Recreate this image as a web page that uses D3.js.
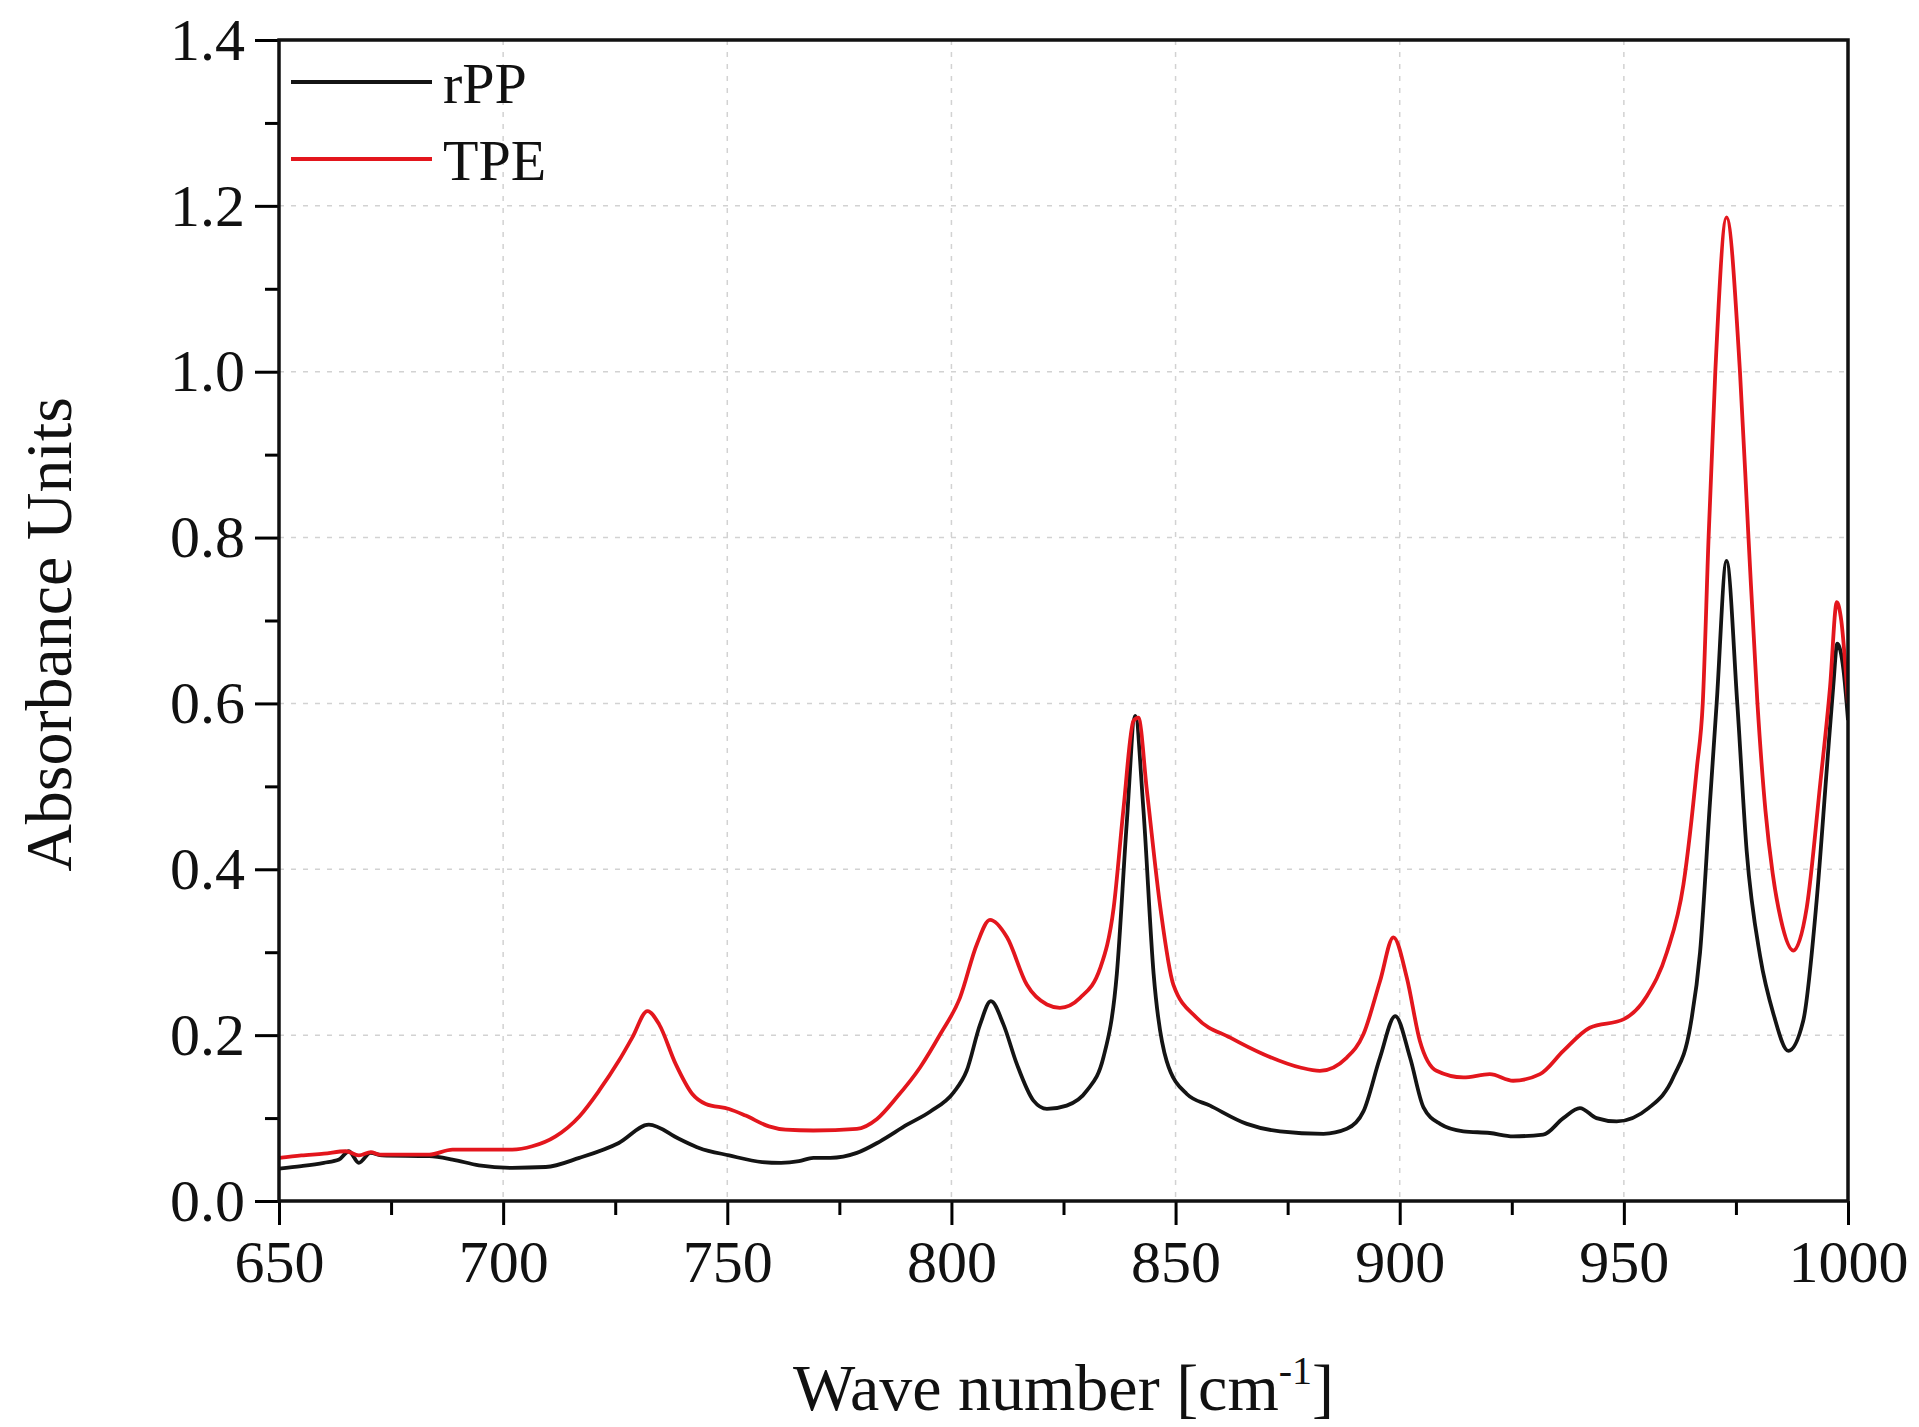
<!DOCTYPE html>
<html>
<head>
<meta charset="utf-8">
<script src="https://cdn.jsdelivr.net/npm/d3@7"></script>
<style>
  body { margin: 0; background: #fff; }
  svg { display: block; }
</style>
</head>
<body>
<script>
// wave numbers [cm-1] and absorbance
const rppWave = [650, 655, 660, 663.4, 665.6, 667.8, 670.4, 673, 683.5, 688.7, 694.6, 702, 709.5, 717, 725.8, 732.5, 739.2, 743.7, 750.4, 757.8, 762, 766, 769.2, 773, 778.9, 784.1, 790.1, 795.3, 800.5, 803.4, 806.4, 808.8, 811.6, 814.6, 818.3, 821.3, 825.7, 830.2, 833.9, 836.9, 839.1, 841, 842.8, 845.1, 848, 852.5, 857.7, 865.9, 873.3, 883, 888.2, 891.9, 895.6, 899, 902.3, 905.3, 909, 914.2, 920.1, 925.3, 932, 936.5, 940.2, 943.9, 948.4, 955.5, 961.1, 964.8, 967, 969.2, 970.7, 972.9, 975.3, 977.4, 980.4, 983.4, 986.7, 990, 993, 995.3, 996.7, 997.6, 999, 1000];
const rppAbs = [0.039, 0.042, 0.046, 0.050, 0.060, 0.046, 0.058, 0.055, 0.054, 0.050, 0.043, 0.040, 0.041, 0.052, 0.070, 0.092, 0.075, 0.064, 0.055, 0.047, 0.046, 0.048, 0.052, 0.052, 0.058, 0.072, 0.092, 0.108, 0.131, 0.157, 0.213, 0.241, 0.213, 0.165, 0.121, 0.111, 0.115, 0.133, 0.173, 0.274, 0.455, 0.585, 0.474, 0.274, 0.169, 0.129, 0.115, 0.093, 0.084, 0.081, 0.087, 0.108, 0.173, 0.223, 0.173, 0.113, 0.093, 0.084, 0.082, 0.078, 0.080, 0.100, 0.112, 0.100, 0.096, 0.112, 0.150, 0.210, 0.300, 0.480, 0.600, 0.772, 0.600, 0.422, 0.295, 0.225, 0.181, 0.217, 0.362, 0.523, 0.620, 0.672, 0.640, 0.580];

const tpeWave = [650, 655, 660, 664.9, 667.8, 670.5, 672.3, 683.5, 688.7, 702, 706.5, 711.7, 717, 721.4, 725.8, 728.8, 732.2, 734.8, 738.5, 742.2, 745.2, 750.4, 754.1, 759.3, 763, 769.2, 778.9, 783.4, 787.8, 793, 797.5, 801.9, 805.7, 808.6, 812.4, 816.8, 821.3, 824.2, 828.7, 833.2, 836.2, 838.4, 840.6, 841.7, 843.6, 846.6, 849.5, 854.7, 862.2, 869.6, 877.8, 882.2, 888.2, 891.9, 895.6, 898.6, 901.6, 904.5, 908.2, 914.2, 920.1, 925.3, 931.3, 936.5, 942.4, 949.9, 955.1, 959.6, 963.3, 966.3, 967.6, 968.9, 970.4, 972.9, 975.9, 977.8, 979.8, 981.6, 983.2, 985, 987.8, 990.8, 993.8, 996, 997.5, 998.5, 1000];
const tpeAbs = [0.052, 0.055, 0.057, 0.060, 0.055, 0.059, 0.056, 0.056, 0.062, 0.062, 0.066, 0.078, 0.102, 0.133, 0.169, 0.197, 0.229, 0.213, 0.165, 0.129, 0.117, 0.111, 0.103, 0.090, 0.086, 0.085, 0.087, 0.099, 0.125, 0.161, 0.201, 0.245, 0.310, 0.339, 0.318, 0.261, 0.237, 0.233, 0.245, 0.281, 0.354, 0.474, 0.579, 0.583, 0.495, 0.354, 0.261, 0.221, 0.197, 0.177, 0.161, 0.157, 0.173, 0.201, 0.265, 0.318, 0.269, 0.193, 0.157, 0.149, 0.153, 0.145, 0.153, 0.181, 0.209, 0.219, 0.247, 0.300, 0.382, 0.523, 0.600, 0.800, 1.000, 1.186, 1.000, 0.800, 0.600, 0.470, 0.395, 0.340, 0.302, 0.354, 0.503, 0.620, 0.722, 0.700, 0.600];

const xTicks = [650, 700, 750, 800, 850, 900, 950, 1000];
const yTicks = [0.0, 0.2, 0.4, 0.6, 0.8, 1.0, 1.2, 1.4];
const seriesNames = ["rPP", "TPE"];

const W = 1919, H = 1427;
const margin = {top: 40, right: 71, bottom: 226, left: 279};
const width = W - margin.left - margin.right, height = H - margin.top - margin.bottom;
const font = "'Liberation Serif', 'Times New Roman', serif";
const colors = ["#141414", "#e3161d"];

const svg = d3.select("body").append("svg")
    .attr("width", W).attr("height", H)
    .style("font-family", font);

const g = svg.append("g")
    .attr("transform", "translate(" + margin.left + "," + margin.top + ")");

const x = d3.scaleLinear().domain([650, 1000]).range([0, width]);
const y = d3.scaleLinear().domain([0, 1.4]).range([height, 0]);

// dashed grid
g.append("g").selectAll("line")
    .data(xTicks.slice(1, -1))
    .enter().append("line")
    .attr("x1", d => x(d)).attr("x2", d => x(d))
    .attr("y1", 0).attr("y2", height)
    .attr("stroke", "#d2d2d2").attr("stroke-width", 1.5)
    .attr("stroke-dasharray", "5,7");
g.append("g").selectAll("line")
    .data(yTicks.slice(1, -1))
    .enter().append("line")
    .attr("x1", 0).attr("x2", width)
    .attr("y1", d => y(d)).attr("y2", d => y(d))
    .attr("stroke", "#d2d2d2").attr("stroke-width", 1.5)
    .attr("stroke-dasharray", "5,7");

// curves
g.append("clipPath").attr("id", "clip")
    .append("rect").attr("width", width).attr("height", height);

const line = d3.line()
    .x(d => x(d[0]))
    .y(d => y(d[1]))
    .curve(d3.curveMonotoneX);

const series = [d3.zip(rppWave, rppAbs), d3.zip(tpeWave, tpeAbs)];

g.append("g").attr("clip-path", "url(#clip)")
    .selectAll("path")
    .data(series)
    .enter().append("path")
    .attr("d", line)
    .attr("fill", "none")
    .attr("stroke", (d, i) => colors[i])
    .attr("stroke-width", 3.8)
    .attr("stroke-linejoin", "round");

// axes: minor ticks, major ticks
const minorX = d3.range(675, 1000, 50);
const minorY = d3.range(0.1, 1.4, 0.2);

g.append("g")
    .attr("transform", "translate(0," + height + ")")
    .call(d3.axisBottom(x).tickValues(minorX).tickSize(14).tickFormat(""))
    .call(a => a.select(".domain").remove())
    .call(a => a.selectAll("line").attr("stroke-width", 3));

g.append("g")
    .call(d3.axisLeft(y).tickValues(minorY).tickSize(14).tickFormat(""))
    .call(a => a.select(".domain").remove())
    .call(a => a.selectAll("line").attr("stroke-width", 3));

const xAxis = g.append("g")
    .attr("transform", "translate(0," + height + ")")
    .call(d3.axisBottom(x).tickValues(xTicks).tickSize(24).tickPadding(14).tickFormat(d3.format("d")));
xAxis.select(".domain").remove();
xAxis.selectAll("line").attr("stroke-width", 3);
xAxis.selectAll("text").style("font-family", font).style("font-size", "60px").attr("fill", "#111");

const yAxis = g.append("g")
    .call(d3.axisLeft(y).tickValues(yTicks).tickSize(24).tickPadding(10).tickFormat(d3.format(".1f")));
yAxis.select(".domain").remove();
yAxis.selectAll("line").attr("stroke-width", 3);
yAxis.selectAll("text").style("font-family", font).style("font-size", "60px").attr("fill", "#111");

// frame
g.append("rect")
    .attr("width", width).attr("height", height)
    .attr("fill", "none").attr("stroke", "#111").attr("stroke-width", 3.5);

// legend
const legend = g.append("g").selectAll("g")
    .data(seriesNames)
    .enter().append("g")
    .attr("transform", (d, i) => "translate(12," + (42 + i * 77) + ")");
legend.append("line")
    .attr("x1", 0).attr("x2", 141)
    .attr("stroke", (d, i) => colors[i]).attr("stroke-width", 3.8);
legend.append("text")
    .attr("x", 152).attr("y", 21)
    .style("font-size", "58px").attr("fill", "#111")
    .text(d => d);

// axis titles
const xt = svg.append("text")
    .attr("x", margin.left + width / 2).attr("y", 1410)
    .attr("text-anchor", "middle")
    .style("font-size", "66px").attr("fill", "#111");
xt.append("tspan").text("Wave number [cm");
xt.append("tspan").attr("dy", -26).style("font-size", "40px").text("-1");
xt.append("tspan").attr("dy", 26).text("]");

svg.append("text")
    .attr("transform", "translate(71," + (margin.top + height / 2 + 14) + ") rotate(-90)")
    .attr("text-anchor", "middle")
    .style("font-size", "66px").attr("fill", "#111")
    .text("Absorbance Units");
</script>
</body>
</html>
